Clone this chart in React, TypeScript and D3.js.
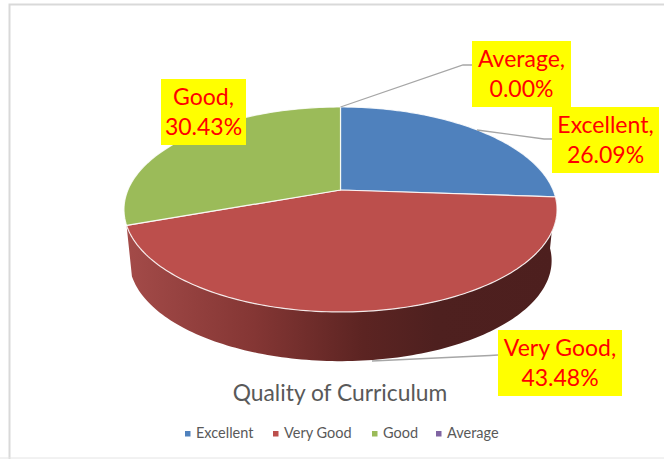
import React from "react";
import * as d3 from "d3";

const categories = ["Excellent", "Very Good", "Good", "Average"];
const shares = [26.09, 43.48, 30.43, 0];
const colors = ["#4F81BD", "#BC4F4C", "#9BBB59", "#8064A2"];
const title = "Quality of Curriculum";

const WIDTH = 664;
const HEIGHT = 459;
const FONT = "Lato, 'Open Sans', sans-serif";

// perspective disc: centre, radius and tilt of the pie's top face
const cx = 340.5;
const cy = 190;
const radius = 212.6;
const tilt = -0.19;
const yScale = 62.7;
const depth = 51.5;
const baseShrink = 0.975;

const project = (theta: number, r = radius, dy = 0, k = 1): [number, number] => {
  const u = Math.sin(theta);
  const v = -Math.cos(theta);
  const w = 1 + tilt * v;
  return [cx + (r * u) / w, (yScale * k * v + cy) / w + dy];
};

const arcPoints = (a0: number, a1: number, r = radius, dy = 0, k = 1) => {
  const n = Math.max(2, Math.ceil(Math.abs(a1 - a0) / 0.02));
  return d3.range(n + 1).map((i) => project(a0 + ((a1 - a0) * i) / n, r, dy, k));
};

const line = d3.line();

const pieGen = d3
  .pie<number>()
  .sort(null)
  .startAngle(0)
  .endAngle(2 * Math.PI);
const slices = pieGen(shares);

const labelBoxes = [
  { x: 552, y: 107, w: 107, h: 66 },
  { x: 498, y: 330, w: 124, h: 66 },
  { x: 161, y: 79, w: 85, h: 66 },
  { x: 472, y: 41, w: 99, h: 66 },
];
const leaders: [number, number][][] = [
  [[477, 130], [544, 139], [552, 139]],
  [[372, 361], [490, 355.5], [498, 355]],
  [],
  [[340.5, 107], [463, 65], [472, 65]],
];
const legendX = [185, 273, 372, 436];

export default function App() {
  const front = slices[1];
  const sideTop = arcPoints(front.startAngle, front.endAngle);
  const sideBottom = arcPoints(front.endAngle, front.startAngle, radius * baseShrink, depth, 0.97);
  return (
    <svg
      width={WIDTH}
      height={HEIGHT}
      viewBox={`0 0 ${WIDTH} ${HEIGHT}`}
      style={{ position: "absolute", left: 0, top: 0, background: "#fff", fontFamily: FONT }}
    >
      <defs>
        <linearGradient id="side" gradientUnits="userSpaceOnUse" x1={125} x2={557} y1={0} y2={0}>
          <stop offset="0" stopColor="#A44B49" />
          <stop offset="0.3" stopColor="#843634" />
          <stop offset="0.55" stopColor="#5C2422" />
          <stop offset="0.72" stopColor="#4E201F" />
          <stop offset="1" stopColor="#4D1F1E" />
        </linearGradient>
      </defs>

      <path d="M9.5 459V4.5H664" fill="none" stroke="#D9D9D9" strokeWidth={2} />
      <path d="M0 458H664" stroke="#E4E4E4" strokeWidth={1} />

      <path d={`${line(sideTop)}L${line(sideBottom)?.slice(1)}Z`} fill="url(#side)" />

      {slices.map((s, i) =>
        s.value > 0 ? (
          <path
            key={categories[i]}
            d={`${line([[cx, cy], ...arcPoints(s.startAngle, s.endAngle)])}Z`}
            fill={colors[i]}
            stroke="#fff"
            strokeOpacity={0.85}
            strokeWidth={1.2}
            strokeLinejoin="round"
          />
        ) : null
      )}

      {leaders.map((pts, i) =>
        pts.length ? (
          <path key={i} d={line(pts) ?? ""} fill="none" stroke="#A6A6A6" strokeWidth={1.3} />
        ) : null
      )}

      {labelBoxes.map((b, i) => (
        <g key={categories[i]}>
          <rect x={b.x} y={b.y} width={b.w} height={b.h} fill="#FFFF00" />
          <text x={b.x + b.w / 2} y={b.y + 26} textAnchor="middle" fontSize={23} fill="#FF0000">
            {categories[i]},
          </text>
          <text x={b.x + b.w / 2} y={b.y + 56} textAnchor="middle" fontSize={23} fill="#FF0000">
            {d3.format(".2f")(shares[i])}%
          </text>
        </g>
      ))}

      <text x={340} y={401} textAnchor="middle" fontSize={22.8} fill="#595959">
        {title}
      </text>

      {categories.map((c, i) => (
        <g key={c}>
          <rect x={legendX[i]} y={431} width={5.5} height={5.5} fill={colors[i]} />
          <text x={legendX[i] + 11} y={438} fontSize={14.5} fill="#595959">
            {c}
          </text>
        </g>
      ))}
    </svg>
  );
}
